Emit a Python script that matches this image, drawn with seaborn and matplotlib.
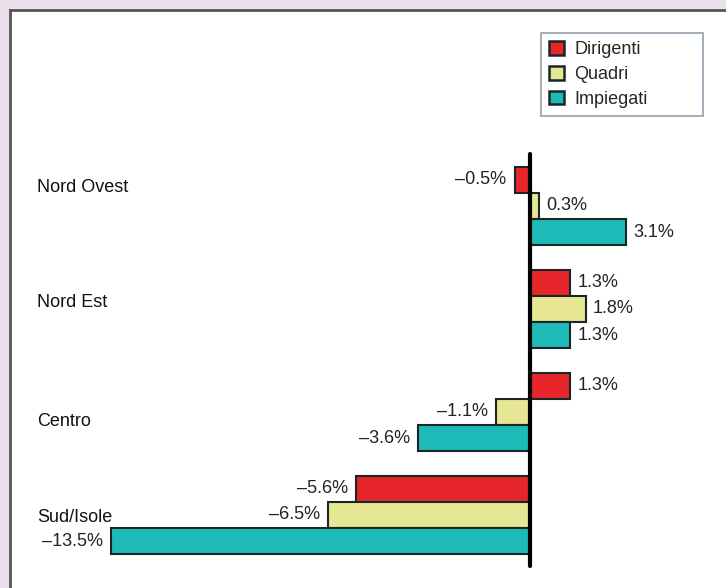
import matplotlib
matplotlib.use("Agg")
import matplotlib.pyplot as plt
import matplotlib.transforms as mtransforms
import pandas as pd
import seaborn as sns

# Data
regions = ["Nord Ovest", "Nord Est", "Centro", "Sud/Isole"]
groups = ["Dirigenti", "Quadri", "Impiegati"]
dirigenti = [-0.5, 1.3, 1.3, -5.6]
quadri = [0.3, 1.8, -1.1, -6.5]
impiegati = [3.1, 1.3, -3.6, -13.5]

colors = ["#E6262A", "#E6E694", "#1DBAB7"]
# small vertical nudges of the region labels (in group units)
label_dy = [-0.18, -0.06, 0.09, 0.02]

rows = []
for g, vals in zip(groups, [dirigenti, quadri, impiegati]):
    for r, v in zip(regions, vals):
        rows.append({"region": r, "group": g, "value": v})
df = pd.DataFrame(rows)

sns.set_style("white")
plt.rcParams["font.family"] = ["Liberation Sans", "DejaVu Sans"]

fig = plt.figure(figsize=(7.26, 5.88), dpi=100)
fig.patch.set_facecolor("#EBDFEC")
ax = fig.add_axes([10 / 726, 0, 716 / 726, 578 / 588])
ax.set_facecolor("white")

sns.barplot(data=df, y="region", x="value", hue="group", order=regions,
            hue_order=groups, palette=colors, saturation=1, orient="h", width=0.76,
            edgecolor="#1a2626", linewidth=1.5, ax=ax)

# value labels
for cont in ax.containers:
    for bar in cont:
        v = bar.get_width()
        y = bar.get_y() + bar.get_height() / 2
        txt = f"{v:.1f}%".replace("-", "\u2013")
        off = 5 if v >= 0 else -6
        ax.annotate(txt, (v, y), xytext=(off, 0), textcoords="offset points",
                    ha="left" if v >= 0 else "right", va="center",
                    fontsize=13, color="#222222")

# zero axis line
ax.plot([0, 0], [-0.5, len(regions) - 0.5], color="black", lw=3,
        solid_capstyle="round", zorder=5)

ax.set_xlim(-16.77, 6.32)
ax.set_ylim(3.709, -1.903)
ax.set_xticks([])
ax.set_yticks([])
ax.set_xlabel("")
ax.set_ylabel("")

trans = mtransforms.blended_transform_factory(ax.transAxes, ax.transData)
for i, r in enumerate(regions):
    ax.text(0.0377, i + label_dy[i], r, transform=trans, ha="left", va="center",
            fontsize=13, color="#111111")

for side in ["right", "bottom"]:
    ax.spines[side].set_visible(False)
for side in ["top", "left"]:
    ax.spines[side].set_color("#555555")
    ax.spines[side].set_linewidth(2)

leg = ax.legend(loc="upper left",
                bbox_to_anchor=(541 / 726, 1 - 117 / 588, 162 / 726, 84 / 588),
                bbox_transform=fig.transFigure, mode="expand", frameon=True,
                fancybox=False, fontsize=13, handlelength=0.8, handleheight=0.8,
                handletextpad=0.6, labelspacing=0.42, borderpad=0.45,
                borderaxespad=0, title=None)
leg.get_frame().set_edgecolor("#8a9aa8")
leg.get_frame().set_linewidth(1.4)
for h in leg.legend_handles:
    h.set_edgecolor("#1a2626")
    h.set_linewidth(1.8)

fig.savefig("out.png", dpi=100, facecolor=fig.get_facecolor())
